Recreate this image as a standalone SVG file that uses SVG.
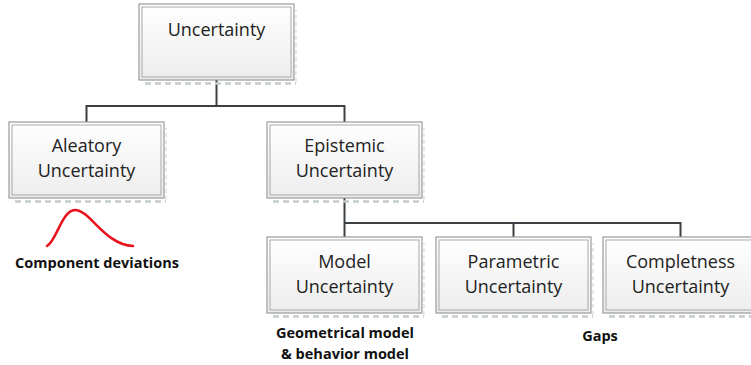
<svg xmlns="http://www.w3.org/2000/svg" width="751" height="365" viewBox="0 0 751 365">
<defs>
<linearGradient id="g" x1="0" y1="0" x2="0" y2="1">
<stop offset="0" stop-color="#ffffff"/>
<stop offset="1" stop-color="#ededed"/>
</linearGradient>
</defs>
<style>
.outer{fill:url(#g);stroke:#9a9a9a;stroke-width:1.2}
.inner{fill:none;stroke:#a8a8a8;stroke-width:1}
.shadow{fill:none;stroke:#c4cccc;stroke-width:2.5;stroke-dasharray:6 4}
.shadowr{fill:none;stroke:#dde2e2;stroke-width:1.5;stroke-dasharray:4 3}
.lbl{font-family:"Open Sans","DejaVu Sans",sans-serif;font-size:18px;fill:#222;text-anchor:middle}
.note{font-family:"Open Sans","DejaVu Sans",sans-serif;font-size:14.5px;font-weight:bold;fill:#111;text-anchor:middle}
.conn{fill:none;stroke:#3a3f44;stroke-width:2}
</style>
<rect width="751" height="365" fill="#ffffff"/>
<g id="connectors">
<polyline class="conn" points="216.5,80 216.5,106"/>
<polyline class="conn" points="86.5,122 86.5,106 344.5,106 344.5,122"/>
<polyline class="conn" points="344.5,198 344.5,237"/>
<polyline class="conn" points="344.5,223 680.5,223 680.5,237"/>
<polyline class="conn" points="513.5,223 513.5,237"/>
</g>
<g id="uncertainty">
<path class="shadow" d="M145,83.5 H296"/>
<path class="shadowr" d="M296,82 V10"/>
<rect class="outer" x="139" y="4" width="155" height="76"/>
<rect class="inner" x="142" y="7" width="149" height="70"/>
<text class="lbl" x="216.5" y="36">Uncertainty</text>
</g>
<g id="aleatory">
<path class="shadow" d="M15,201.5 H166"/>
<path class="shadowr" d="M166,200 V128"/>
<rect class="outer" x="9" y="122" width="155" height="76"/>
<rect class="inner" x="12" y="125" width="149" height="70"/>
<text class="lbl" x="86.5" y="152">Aleatory</text>
<text class="lbl" x="86.5" y="177">Uncertainty</text>
</g>
<g id="epistemic">
<path class="shadow" d="M273,201.5 H424"/>
<path class="shadowr" d="M424,200 V128"/>
<rect class="outer" x="267" y="122" width="155" height="76"/>
<rect class="inner" x="270" y="125" width="149" height="70"/>
<text class="lbl" x="344.5" y="152">Epistemic</text>
<text class="lbl" x="344.5" y="177">Uncertainty</text>
</g>
<g id="model">
<path class="shadow" d="M273,316.5 H424"/>
<path class="shadowr" d="M424,315 V243"/>
<rect class="outer" x="267" y="237" width="155" height="76"/>
<rect class="inner" x="270" y="240" width="149" height="70"/>
<text class="lbl" x="344.5" y="268">Model</text>
<text class="lbl" x="344.5" y="293">Uncertainty</text>
</g>
<g id="parametric">
<path class="shadow" d="M442,316.5 H593"/>
<path class="shadowr" d="M593,315 V243"/>
<rect class="outer" x="436" y="237" width="155" height="76"/>
<rect class="inner" x="439" y="240" width="149" height="70"/>
<text class="lbl" x="513.5" y="268">Parametric</text>
<text class="lbl" x="513.5" y="293">Uncertainty</text>
</g>
<g id="completeness">
<path class="shadow" d="M609,316.5 H760"/>
<rect class="outer" x="603" y="237" width="155" height="76"/>
<rect class="inner" x="606" y="240" width="149" height="70"/>
<text class="lbl" x="680.5" y="268">Completness</text>
<text class="lbl" x="680.5" y="293">Uncertainty</text>
</g>
<g id="aleatory-note">
<path d="M47,246 C56,242 62,210 75,210 C90,210 105,245 133,246" fill="none" stroke="#e8101a" stroke-width="2.5" stroke-linecap="round"/>
<text class="note" x="97" y="268">Component deviations</text>
</g>
<g id="model-note">
<text class="note" x="345" y="338">Geometrical model</text>
<text class="note" x="345" y="359">&amp; behavior model</text>
</g>
<g id="gaps-note">
<text class="note" x="600" y="341">Gaps</text>
</g>
</svg>
